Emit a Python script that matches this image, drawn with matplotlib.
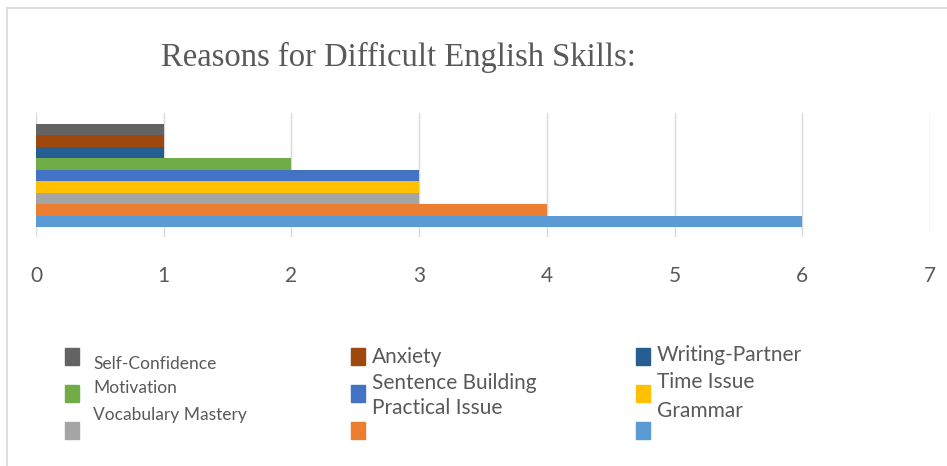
import matplotlib.pyplot as plt
from matplotlib.patches import Rectangle
from matplotlib.lines import Line2D

# series, top to bottom as drawn
reasons = ["Self-Confidence", "Anxiety", "Writing-Partner", "Motivation",
           "Sentence Building", "Time Issue", "Vocabulary Mastery",
           "Practical Issue", "Grammar"]
counts = [1, 1, 1, 2, 3, 3, 3, 4, 6]
colors = ["#636363", "#9E480E", "#255E91", "#70AD47", "#4472C4",
          "#FFC000", "#A5A5A5", "#ED7D31", "#5B9BD5"]
x_ticks = [0, 1, 2, 3, 4, 5, 6, 7]

W, H = 947, 466
fig = plt.figure(figsize=(W / 100, H / 100), dpi=100)
FONT = ["Lato", "DejaVu Sans"]


def fx(px):
    return px / W


def fy(py):
    return 1 - py / H


# outer chart border (left and top edges are visible)
fig.lines.append(Line2D([fx(7), fx(7)], [0, fy(8)], transform=fig.transFigure,
                        color="#d9d9d9", lw=1.2))
fig.lines.append(Line2D([fx(7), 1], [fy(8), fy(8)], transform=fig.transFigure,
                        color="#d9d9d9", lw=1.2))

ax = fig.add_axes([fx(36), fy(237), fx(930) - fx(36), fy(113) - fy(237)])
n = len(reasons)
for i, (name, val, c) in enumerate(zip(reasons, counts, colors)):
    ax.barh(n - 1 - i, val, height=1.0, color=c)

ax.set_xlim(0, 7)
ax.set_ylim(-1.37, n - 1 + 1.46)
ax.set_xticks(x_ticks)
ax.set_xticklabels([str(t) for t in x_ticks], color="#595959", fontsize=15,
                   family=FONT)
ax.tick_params(axis="x", length=0, pad=21)
ax.set_yticks([])
ax.grid(axis="x", color="#d9d9d9", lw=1)
ax.set_axisbelow(True)
for s in ax.spines.values():
    s.set_visible(False)

fig.text(fx(398), fy(57), "Reasons for Difficult English Skills:",
         ha="center", va="center", fontsize=23.5, color="#595959",
         family=["Liberation Serif"])

# hand-placed legend, as in the original
marker_x = [65, 351, 636, 65, 351, 636, 65, 351, 636]
marker_y = [348, 348, 348, 385, 385, 385, 422, 422, 422]
text_x = [93, 372, 657, 93, 372, 657, 93, 372, 657]
text_y = [364, 357, 355, 388, 383, 382, 415, 408, 411]
text_size = [12.5, 15, 15, 12.5, 15, 15, 12.5, 15, 15]
for i, (name, c) in enumerate(zip(reasons, colors)):
    fig.patches.append(Rectangle((fx(marker_x[i]), fy(marker_y[i] + 17)),
                                 fx(14), 17 / H, transform=fig.transFigure,
                                 color=c))
    fig.text(fx(text_x[i]), fy(text_y[i]), name, ha="left", va="center",
             fontsize=text_size[i], color="#595959", family=FONT)

fig.savefig("out.png", dpi=100)
